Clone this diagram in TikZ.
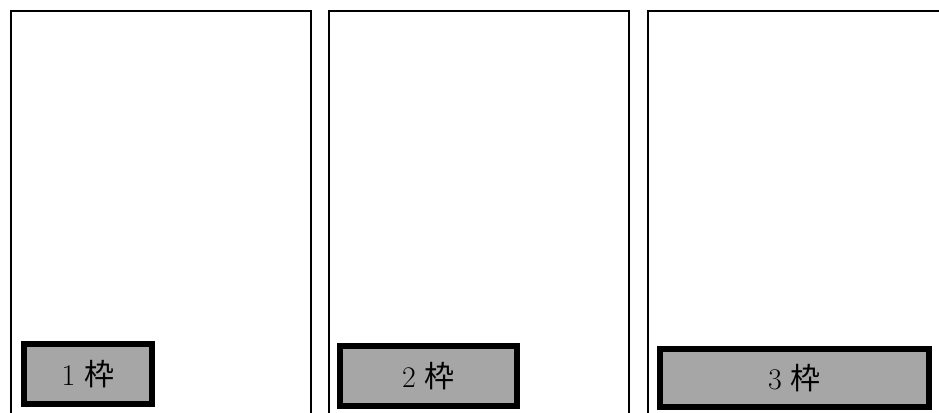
\documentclass[tikz,border=0pt]{standalone}
\usepackage{fontspec}
\usepackage{tikz}
\usepackage{xcolor}
\usetikzlibrary{positioning}
\newfontfamily\jpfont{Noto Sans CJK JP}
\definecolor{slotgray}{HTML}{A6A6A6}

\begin{document}
\begin{tikzpicture}
[ 
x = 1pt, y = -1pt,
panel-a/.style={draw, line width = 2.5pt},
slot-a/.style={draw, fill = slotgray, line width = 6pt, inner sep = 0pt, minimum height = 60pt,
               font = \fontsize{30}{36}\selectfont},
text-a/.style={}
]
\useasboundingbox (0,0) rectangle (939,412);
\clip (0,0) rectangle (939,412);
\draw [panel-a] (11,430) -- (11,11) -- (311,11) -- (311,430);
\draw [panel-a] (329,430) -- (329,11) -- (629,11) -- (629,430);
\draw [panel-a] (648,430) -- (648,11) -- (960,11);
\node (slot-1) [slot-a, minimum width = 128pt] at (88,374)    {1 {\jpfont 枠}};
\node (slot-2) [slot-a, minimum width = 177pt] at (428.5,376) {2 {\jpfont 枠}};
\node (slot-3) [slot-a, minimum width = 269pt, minimum height = 58pt] at (794.5,378) {3 {\jpfont 枠}};
\end{tikzpicture}
\end{document}
